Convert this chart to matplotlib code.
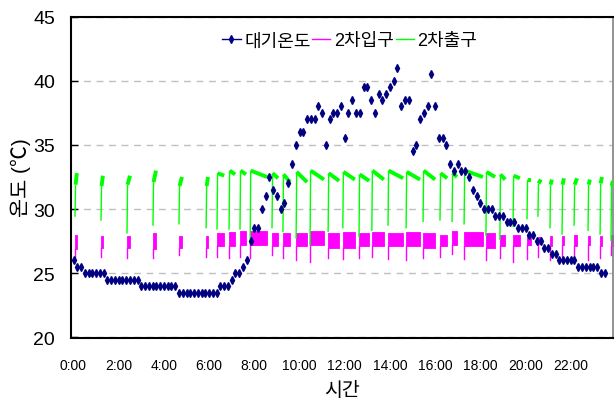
import matplotlib
matplotlib.use('Agg')
import matplotlib.pyplot as plt
from matplotlib import font_manager
from matplotlib.lines import Line2D
import numpy as np

# ---------------- data ----------------
# 대기온도: one reading every 10 minutes from 0:00
air_temp = [26.0, 25.5, 25.5] + [25.0] * 6 + [24.5] * 9 + [24.0] * 10 + [23.5] * 11 + \
    [24.0] * 3 + [24.5, 25.0, 25.0, 25.5, 26.0, 27.5, 28.5, 28.5, 30.0, 31.0, 32.5, 31.5,
                  31.0, 30.0, 30.5, 32.0, 33.5, 35.0, 36.0, 36.0, 37.0, 37.0, 37.0, 38.0,
                  37.5, 35.0, 37.0, 37.5, 37.5, 38.0, 35.5, 37.5, 38.5, 37.5, 37.5, 39.5,
                  39.5, 38.5, 37.5, 39.0, 38.5, 39.0, 39.5, 40.0, 41.0, 38.0, 38.5, 38.5,
                  34.5, 35.0, 37.0, 37.5, 38.0, 40.5, 38.0, 35.5, 35.5, 35.0, 33.5, 33.0,
                  33.5, 33.0, 33.0, 32.5, 31.5, 31.0, 30.5] + \
    [30.0] * 3 + [29.5] * 3 + [29.0] * 3 + [28.5] * 3 + [28.0] * 2 + [27.5] * 2 + \
    [27.0] * 2 + [26.5] * 2 + [26.0] * 5 + [25.5] * 6 + [25.0] * 2

# operating cycles of the 2nd loop (start / end of each logged run)
cycle_start = ["0:04", "1:13", "2:22", "3:31", "4:40", "5:52", "6:21", "6:53", "7:22",
               "7:49", "8:47", "9:16", "9:51", "10:28", "11:16", "11:55", "12:38", "13:12",
               "13:55", "14:43", "15:28", "16:13", "16:45", "17:17", "18:15", "18:52",
               "19:27", "20:04", "20:33", "21:05", "21:37", "22:09", "22:46", "23:18", "23:47"]
cycle_end = ["0:09", "1:18", "2:30", "3:39", "4:48", "5:57", "6:40", "7:09", "7:38",
             "8:34", "9:03", "9:35", "10:20", "11:05", "11:45", "12:27", "13:05", "13:44",
             "14:35", "15:20", "16:00", "16:32", "16:58", "18:07", "18:39", "19:06",
             "19:45", "20:15", "20:41", "21:10", "21:42", "22:17", "22:51", "23:23", "23:52"]

# 2차출구: first reading, value after the rise, last reading of each run
outlet_low = [29.4, 29.1, 28.1, 28.7, 28.8, 28.5, 28.4, 28.4, 28.4, 27.2, 28.5, 28.2,
              27.7, 27.2, 28.2, 28.5, 27.8, 28.3, 28.7, 28.5, 29.0, 29.1, 29.0, 28.8,
              27.9, 27.6, 28.6, 29.2, 29.4, 28.5, 28.0, 28.7, 28.3, 28.0, 27.5]
outlet_peak = [31.9, 31.8, 31.9, 32.1, 31.8, 31.8, 32.8, 33.0, 33.0, 33.0, 32.8, 32.7,
               32.9, 33.0, 32.8, 32.9, 32.7, 33.0, 33.0, 32.9, 33.0, 32.8, 32.8, 33.0,
               32.9, 32.7, 32.6, 32.3, 32.0, 31.9, 31.9, 31.9, 31.9, 32.0, 31.8]
outlet_end = [32.8, 32.6, 32.6, 33.0, 32.5, 32.5, 32.6, 32.7, 32.7, 32.5, 32.4, 32.1,
              32.1, 32.3, 32.2, 32.3, 32.2, 32.3, 32.4, 32.3, 32.3, 32.4, 32.5, 32.5,
              32.5, 32.3, 32.4, 32.3, 32.3, 32.3, 32.4, 32.4, 32.3, 32.5, 32.2]

# 2차입구: band of readings (low / high) and the first (dip) reading of each run
inlet_low = [26.9, 27.0, 27.0, 26.9, 27.0, 27.0, 27.1, 27.1, 27.2, 27.2, 27.1, 27.1,
             27.1, 27.2, 27.0, 27.0, 27.1, 27.1, 27.1, 27.1, 27.0, 27.1, 27.2, 27.1,
             27.0, 27.1, 27.1, 27.2, 27.3, 27.1, 27.2, 27.1, 27.2, 27.1, 27.1]
inlet_high = [28.0, 27.9, 27.9, 28.1, 27.9, 27.9, 28.1, 28.2, 28.3, 28.3, 28.1, 28.1,
              28.1, 28.3, 28.1, 28.2, 28.1, 28.2, 28.1, 28.2, 28.1, 28.0, 28.3, 28.2,
              28.1, 28.0, 28.0, 28.0, 27.8, 27.9, 27.9, 28.0, 27.9, 27.9, 28.0]
inlet_dip = [26.1, 26.3, 26.2, 26.2, 26.4, 26.3, 26.3, 26.2, 26.3, 26.2, 26.4, 26.2,
             26.0, 25.9, 26.2, 26.1, 26.2, 26.3, 26.1, 26.0, 26.2, 26.3, 26.5, 26.1,
             26.0, 26.2, 25.9, 26.1, 26.3, 26.0, 26.2, 26.1, 26.0, 26.2, 26.4]

x_tick_hours = [0, 2, 4, 6, 8, 10, 12, 14, 16, 18, 20, 22]
x_tick_labels = ["0:00", "2:00", "4:00", "6:00", "8:00", "10:00", "12:00",
                 "14:00", "16:00", "18:00", "20:00", "22:00"]
y_ticks = [20, 25, 30, 35, 40, 45]
series_names = ["대기온도", "2차입구", "2차출구"]

# ---------------- fonts ----------------
avail = {f.name for f in font_manager.fontManager.ttflist}
if 'Liberation Sans Narrow' in avail:
    num_font, ysz, xsz = 'Liberation Sans Narrow', 16, 11.5
elif 'DejaVu Sans Condensed' in avail:
    num_font, ysz, xsz = 'DejaVu Sans Condensed', 13, 9.5
else:
    num_font, ysz, xsz = 'Liberation Sans', 14, 10
plt.rcParams['font.family'] = [num_font, 'Noto Sans CJK KR', 'DejaVu Sans']


def hours(s):
    h, m = s.split(':')
    return int(h) + int(m) / 60.0


# ---------------- figure ----------------
W, H = 616, 410
fig = plt.figure(figsize=(W / 100, H / 100), dpi=100)
ax_l, ax_r, ax_t, ax_b = 70.5, 613, 17.5, 338.5
ax = fig.add_axes([ax_l / W, 1 - ax_b / H, (ax_r - ax_l) / W, (ax_b - ax_t) / H])

GREEN = '#00FF00'
PINK = '#FF00FF'
NAVY = '#000080'
rise = 1.5 / 60.0

t0s = np.array([hours(s) for s in cycle_start])
t1s = np.array([hours(s) for s in cycle_end])

# inlet (pink)
for k in range(len(t0s)):
    a, b = t0s[k], t1s[k]
    ax.fill_between([a, b], [inlet_low[k]] * 2, [inlet_high[k]] * 2,
                    color=PINK, lw=0.6, edgecolor=PINK, zorder=2)
    ax.plot([a, a], [inlet_dip[k], inlet_low[k]], color=PINK, lw=1.0, zorder=2)

# outlet (green)
for k in range(len(t0s)):
    a, b = t0s[k], t1s[k]
    ax.plot([a, a + rise], [outlet_low[k], outlet_peak[k]], color=GREEN, lw=1.0,
            zorder=3, solid_capstyle='butt')
    ax.plot([a + rise, b], [outlet_peak[k], outlet_end[k]], color=GREEN, lw=2.8,
            zorder=3, solid_capstyle='butt')

# air temperature (navy diamonds)
t_air = np.arange(len(air_temp)) / 6.0
ax.plot(t_air, air_temp, linestyle='none', marker='d', markersize=3.6,
        color=NAVY, markeredgecolor=NAVY, zorder=4)

# axes
ax.set_xlim((ax_l - 73.5) / 22.6, (ax_r - 73.5) / 22.6)
ax.set_ylim(20, 45)
ax.set_yticks(y_ticks)
ax.set_xticks(x_tick_hours)
ax.set_xticklabels(x_tick_labels)
ax.tick_params(axis='y', direction='in', length=5, width=1, labelsize=ysz, pad=11)
ax.tick_params(axis='x', length=0, labelsize=xsz, pad=15)
ax.yaxis.grid(True, linestyle=(0, (5, 4)), color='#C0C0C0', lw=1)
ax.set_axisbelow(True)
for side in ['left', 'bottom', 'top']:
    ax.spines[side].set_linewidth(1.5)
    ax.spines[side].set_color('black')
ax.spines['right'].set_linewidth(1.2)
ax.spines['right'].set_color('#808080')

ax.set_ylabel("온도 (℃)", fontsize=15, labelpad=2)
ax.set_xlabel("시간", fontsize=14, labelpad=6)

handles = [Line2D([], [], color=NAVY, marker='d', markersize=3.6, lw=1),
           Line2D([], [], color=PINK, lw=1),
           Line2D([], [], color=GREEN, lw=1)]
ax.legend(handles, series_names, loc='center', bbox_to_anchor=(0.515, 0.924),
          ncol=3, frameon=False, fontsize=13, handlelength=1.0, handletextpad=0.2,
          columnspacing=0.1, borderpad=0)

fig.savefig('out.png', dpi=100)
